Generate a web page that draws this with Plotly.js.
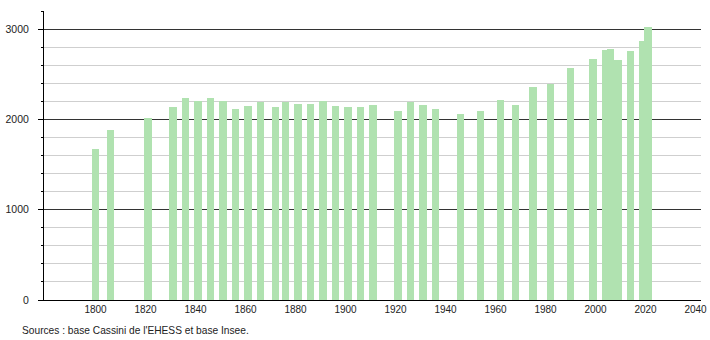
<!DOCTYPE html>
<html>
<head>
<meta charset="utf-8">
<script src="https://cdn.plot.ly/plotly-3.0.1.min.js"></script>
<style>html,body{margin:0;padding:0;background:#fff;}#chart{width:710px;height:340px;}</style>
</head>
<body>
<div id="chart"></div>
<script>
const years = [1800, 1806, 1821, 1831, 1836, 1841, 1846, 1851, 1856, 1861, 1866, 1872, 1876, 1881, 1886, 1891, 1896, 1901, 1906, 1911, 1921, 1926, 1931, 1936, 1946, 1954, 1962, 1968, 1975, 1982, 1990, 1999, 2004, 2006, 2009, 2014, 2019, 2021];
const population = [1673, 1884, 2016, 2141, 2239, 2202, 2239, 2200, 2115, 2150, 2196, 2135, 2196, 2169, 2169, 2198, 2150, 2135, 2139, 2158, 2095, 2192, 2161, 2117, 2061, 2095, 2217, 2158, 2357, 2397, 2568, 2669, 2771, 2783, 2660, 2760, 2863, 3022];
const xTicks = [1800, 1820, 1840, 1860, 1880, 1900, 1920, 1940, 1960, 1980, 2000, 2020, 2040];
const yTicks = [0, 1000, 2000, 3000];
const sourceText = "Sources : base Cassini de l'EHESS et base Insee.";

const trace = {
  type: 'bar',
  x: years,
  y: population,
  width: 3.1,
  marker: {color: 'rgb(176,226,176)', line: {width: 0}},
  hoverinfo: 'x+y'
};

const layout = {
  width: 710,
  height: 340,
  margin: {l: 44, r: 9, t: 11, b: 40, pad: 0},
  paper_bgcolor: '#fff',
  plot_bgcolor: '#fff',
  showlegend: false,
  bargap: 0,
  font: {family: 'Liberation Sans, Arial, sans-serif', size: 11, color: '#222'},
  xaxis: {
    range: [1779.4, 2042.2],
    tickvals: xTicks,
    ticktext: xTicks.map(String),
    showgrid: false,
    zeroline: false,
    showline: true,
    linecolor: '#000',
    linewidth: 1,
    ticks: '',
    tickfont: {size: 10, color: '#222'},
    fixedrange: true
  },
  yaxis: {
    range: [0, 3200],
    tickvals: yTicks,
    ticktext: yTicks.map(String),
    showgrid: true,
    gridcolor: '#333',
    gridwidth: 1,
    zeroline: false,
    showline: true,
    linecolor: '#000',
    linewidth: 1,
    ticks: 'outside',
    ticklen: 5,
    tickcolor: '#000',
    tickfont: {size: 10.5, color: '#222'},
    ticklabelstandoff: 7,
    minor: {dtick: 200, showgrid: true, gridcolor: '#cfcfcf', gridwidth: 1, ticks: 'outside', ticklen: 2, tickcolor: '#000'},
    fixedrange: true
  },
  annotations: [{
    text: sourceText,
    xref: 'paper', yref: 'paper',
    x: -0.037, y: -0.079,
    xanchor: 'left', yanchor: 'top',
    showarrow: false,
    font: {size: 10.2, color: '#222'}
  }]
};

Plotly.newPlot('chart', [trace], layout, {displayModeBar: false, staticPlot: true});
</script>
</body>
</html>
